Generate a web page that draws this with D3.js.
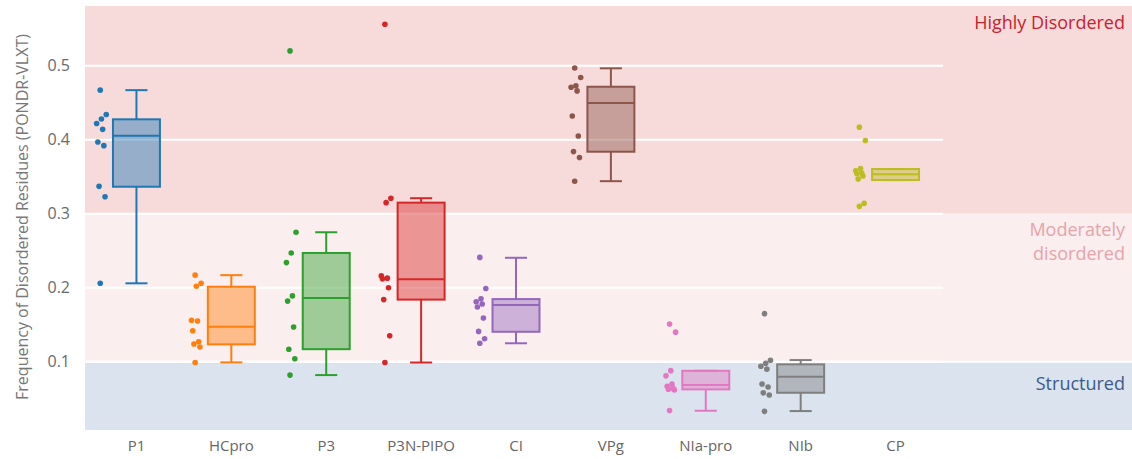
<!DOCTYPE html>
<html>
<head>
<meta charset="utf-8">
<script src="https://cdn.jsdelivr.net/npm/d3@7"></script>
<style>
  html, body { margin: 0; padding: 0; background: #ffffff; }
  svg { display: block; font-family: "Open Sans", "DejaVu Sans", sans-serif; }
</style>
</head>
<body>
<svg id="chart" width="1132" height="459"></svg>
<script>
// ---------- data ----------
const categories = ["P1", "HCpro", "P3", "P3N-PIPO", "CI", "VPg", "NIa-pro", "NIb", "CP"];
const colors = ["#1f77b4", "#ff7f0e", "#2ca02c", "#d62728", "#9467bd", "#8c564b", "#e377c2", "#7f7f7f", "#bcbd22"];

const p1Values    = [0.467, 0.434, 0.428, 0.422, 0.414, 0.397, 0.392, 0.337, 0.323, 0.206];
const hcproValues = [0.217, 0.206, 0.202, 0.156, 0.155, 0.142, 0.127, 0.124, 0.120, 0.099];
const p3Values    = [0.520, 0.275, 0.247, 0.234, 0.189, 0.182, 0.147, 0.117, 0.104, 0.082];
const p3nValues   = [0.556, 0.321, 0.315, 0.216, 0.213, 0.212, 0.200, 0.184, 0.135, 0.099];
const ciValues    = [0.241, 0.199, 0.185, 0.181, 0.178, 0.174, 0.159, 0.141, 0.131, 0.125];
const vpgValues   = [0.497, 0.484, 0.473, 0.471, 0.466, 0.432, 0.405, 0.384, 0.376, 0.344];
const niaValues   = [0.151, 0.140, 0.088, 0.081, 0.070, 0.067, 0.064, 0.063, 0.062, 0.034];
const nibValues   = [0.165, 0.102, 0.098, 0.094, 0.090, 0.070, 0.066, 0.058, 0.055, 0.033];
const cpValues    = [0.417, 0.399, 0.361, 0.358, 0.355, 0.354, 0.351, 0.347, 0.314, 0.310];
const pointSeries = [p1Values, hcproValues, p3Values, p3nValues, ciValues, vpgValues, niaValues, nibValues, cpValues];

// box statistics
const q1Values     = [0.3365, 0.1235, 0.117, 0.184, 0.1405, 0.3838, 0.0627, 0.0581, 0.3455];
const medianValues = [0.4054, 0.1473, 0.186, 0.2114, 0.1766, 0.4496, 0.0685, 0.0797, 0.3532];
const q3Values     = [0.4276, 0.2014, 0.247, 0.315, 0.1847, 0.4716, 0.0878, 0.0965, 0.3604];
const lowerValues  = [0.206, 0.0992, 0.082, 0.099, 0.125, 0.344, 0.0338, 0.0334, 0.3455];
const upperValues  = [0.467, 0.217, 0.275, 0.321, 0.2405, 0.4965, 0.0878, 0.1023, 0.3604];

const yTicks = [0.1, 0.2, 0.3, 0.4, 0.5];
const zones = [
  {label: ["Highly Disordered"], from: 0.3, to: 0.5807, fill: "#f7dbdb", text: "#c9222f"},
  {label: ["Moderately", "disordered"], from: 0.1, to: 0.3, fill: "#fbeeee", text: "#e6a3aa"},
  {label: ["Structured"], from: 0.0078, to: 0.1, fill: "#dae3ee", text: "#3d5a8a"}
];

// ---------- layout ----------
const svg = d3.select("#chart");
const plotLeft = 85, plotRight = 943, bandRight = 1132;
const plotTop = 6, plotBottom = 430;

const x = d3.scaleBand().domain(categories).range([89, 943]).paddingInner(0).paddingOuter(0);
const y = d3.scaleLinear().domain([0.0078, 0.5807]).range([plotBottom, plotTop]);
const boxW = x.bandwidth() * 0.495;
const capW = boxW * 0.47;

// zones
svg.append("g").selectAll("rect").data(zones).join("rect")
  .attr("x", plotLeft).attr("width", bandRight - plotLeft)
  .attr("y", d => y(d.to)).attr("height", d => y(d.from) - y(d.to))
  .attr("fill", d => d.fill);

// gridlines
svg.append("g").selectAll("line").data(yTicks).join("line")
  .attr("x1", plotLeft - 12).attr("x2", plotRight)
  .attr("y1", d => y(d)).attr("y2", d => y(d))
  .attr("stroke", "#ffffff").attr("stroke-width", 2);
svg.append("line")
  .attr("x1", plotLeft).attr("x2", bandRight)
  .attr("y1", y(0.1)).attr("y2", y(0.1))
  .attr("stroke", "#ffffff").attr("stroke-width", 2);

// zone labels
zones.forEach(z => {
  const t = svg.append("text")
    .attr("text-anchor", "end")
    .attr("font-size", 18)
    .attr("fill", z.text);
  const baseY = z.from === 0.3 ? 29 : (z.from === 0.1 ? 236 : 390);
  z.label.forEach((line, i) => {
    t.append("tspan").attr("x", 1125).attr("y", baseY + i * 24).text(line);
  });
});

// boxes
const cx = c => x(c) + x.bandwidth() / 2;
const boxes = svg.append("g").selectAll("g").data(categories).join("g");
boxes.each(function(c, i) {
  const g = d3.select(this);
  const col = colors[i];
  const xc = cx(c);
  // whiskers
  g.append("line").attr("x1", xc).attr("x2", xc)
    .attr("y1", y(q3Values[i])).attr("y2", y(upperValues[i]))
    .attr("stroke", col).attr("stroke-width", 2);
  g.append("line").attr("x1", xc).attr("x2", xc)
    .attr("y1", y(q1Values[i])).attr("y2", y(lowerValues[i]))
    .attr("stroke", col).attr("stroke-width", 2);
  [upperValues[i], lowerValues[i]].forEach(v => {
    g.append("line").attr("x1", xc - capW / 2).attr("x2", xc + capW / 2)
      .attr("y1", y(v)).attr("y2", y(v))
      .attr("stroke", col).attr("stroke-width", 2);
  });
  // box
  g.append("rect")
    .attr("x", xc - boxW / 2).attr("width", boxW)
    .attr("y", y(q3Values[i])).attr("height", Math.max(1, y(q1Values[i]) - y(q3Values[i])))
    .attr("fill", col).attr("fill-opacity", 0.45)
    .attr("stroke", col).attr("stroke-width", 2);
  g.append("line").attr("x1", xc - boxW / 2).attr("x2", xc + boxW / 2)
    .attr("y1", y(medianValues[i])).attr("y2", y(medianValues[i]))
    .attr("stroke", col).attr("stroke-width", 2);
  // points (deterministic jitter)
  g.selectAll("circle").data(pointSeries[i]).join("circle")
    .attr("cx", (v, j) => xc - 35 + (((j * 5 + 3) % 9) - 4) * 1.2)
    .attr("cy", v => y(v))
    .attr("r", 2.8)
    .attr("fill", col);
});

// y axis
const yAxis = svg.append("g").attr("transform", `translate(${plotLeft},0)`)
  .call(d3.axisLeft(y).tickValues(yTicks).tickFormat(d3.format(".1f")).tickSize(0).tickPadding(15));
yAxis.select(".domain").remove();
yAxis.selectAll("text").attr("font-size", 16).attr("fill", "#6a6a6a").attr("font-family", "Open Sans, sans-serif");

// x axis
const xAxis = svg.append("g").attr("transform", `translate(0,${plotBottom})`)
  .call(d3.axisBottom(x).tickSize(0).tickPadding(10));
xAxis.select(".domain").remove();
xAxis.selectAll("text").attr("font-size", 15).attr("fill", "#666").attr("font-family", "Open Sans, sans-serif");

// y title
svg.append("text")
  .attr("transform", "translate(22,217) rotate(-90)")
  .attr("text-anchor", "middle")
  .attr("dominant-baseline", "central")
  .attr("font-size", 16)
  .attr("fill", "#777")
  .text("Frequency of Disordered Residues (PONDR-VLXT)");
</script>
</body>
</html>
